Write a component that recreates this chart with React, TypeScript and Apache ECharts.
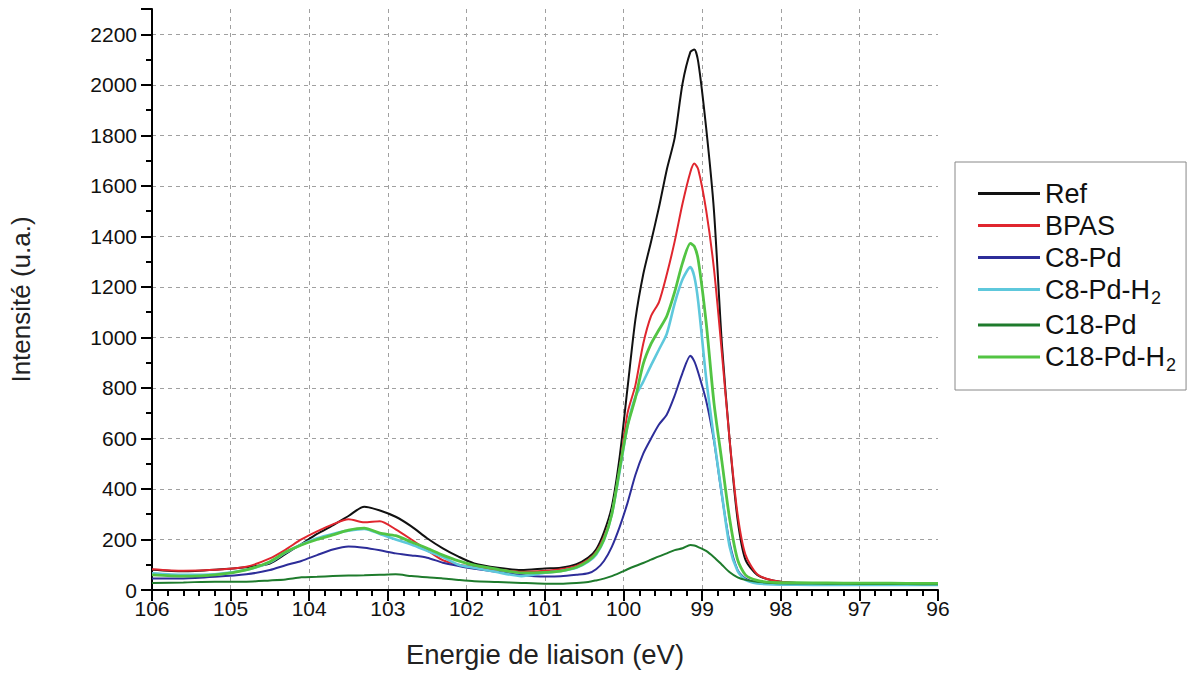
import React, { useEffect, useRef } from "react";
import * as echarts from "echarts";

// Binding energy (eV) sample positions
const energies = [
  106, 105.6, 105.2, 104.8, 104.5, 104.3, 104.1, 103.9, 103.7, 103.5,
  103.3, 103.1, 102.9, 102.7, 102.5, 102.3, 102.1, 101.9, 101.6, 101.3,
  101.0, 100.8, 100.6, 100.45, 100.35, 100.25, 100.15, 100.05, 99.95, 99.85,
  99.75, 99.65, 99.55, 99.45, 99.35, 99.25, 99.15, 99.1, 99.05, 98.95,
  98.85, 98.75, 98.65, 98.55, 98.45, 98.3, 98.1, 97.8, 97.4, 97.0,
  96.6, 96.2, 96.0,
];

const refValues = [
  80, 74, 80, 90, 105, 143, 182, 222, 256, 293,
  330, 315, 290, 252, 205, 165, 132, 105, 88, 79,
  85, 88, 102, 128, 160, 228, 330, 527, 800, 1070,
  1250, 1380, 1515, 1665, 1790, 2005, 2130, 2140, 2090, 1830,
  1500, 976, 590, 280, 120, 60, 38, 28, 25, 24,
  23, 22, 22,
];

const bpasValues = [
  82, 76, 80, 92, 125, 160, 200, 232, 260, 280,
  268, 272, 240, 200, 158, 118, 100, 92, 80, 72,
  76, 82, 95, 120, 150, 210, 305, 480, 700, 810,
  975, 1085, 1140, 1250, 1380, 1530, 1655, 1688, 1665, 1504,
  1270, 940, 590, 300, 140, 62, 38, 28, 26, 25,
  24, 23, 23,
];

const c8PdValues = [
  46, 46, 52, 62, 79, 98, 115, 138, 160, 172,
  167, 157, 145, 137, 128, 108, 95, 84, 72, 59,
  53, 54, 60, 66, 82, 115, 171, 250, 345, 455,
  540, 600, 655, 695, 770, 860, 927, 905, 860, 750,
  590, 375, 185, 80, 45, 30, 26, 24, 22, 22,
  21, 21, 21,
];

const c8PdH2Values = [
  66, 60, 62, 80, 110, 148, 180, 205, 222, 235,
  242, 222, 200, 180, 155, 130, 100, 88, 70, 55,
  68, 75, 88, 112, 140, 198, 300, 470, 650, 765,
  825, 890, 952, 1015, 1135, 1230, 1278, 1240, 1140, 840,
  600, 380, 170, 75, 40, 26, 22, 21, 20, 20,
  20, 20, 20,
];

const c18PdValues = [
  28, 30, 33, 33, 38, 42, 50, 52, 55, 57,
  58, 60, 62, 55, 50, 46, 40, 35, 32, 28,
  25, 25, 28, 32, 38, 45, 55, 68, 82, 95,
  107, 120, 133, 145, 158, 165, 178, 176, 170, 155,
  130, 100, 70, 50, 40, 33, 28, 26, 25, 24,
  24, 23, 23,
];

const c18PdH2Values = [
  60, 55, 60, 80, 112, 150, 178, 200, 218, 237,
  245, 225, 215, 190, 165, 138, 115, 98, 82, 68,
  70, 75, 90, 115, 145, 200, 300, 480, 650, 760,
  895, 975, 1030, 1085, 1180, 1295, 1372, 1360, 1306, 1060,
  740, 510, 280, 120, 60, 38, 30, 29, 28, 27,
  27, 26, 26,
];

const seriesNames = ["Ref", "BPAS", "C8-Pd", "C8-Pd-H2", "C18-Pd", "C18-Pd-H2"];
const seriesValues = [refValues, bpasValues, c8PdValues, c8PdH2Values, c18PdValues, c18PdH2Values];
const seriesColors = ["#111111", "#e0262e", "#2d2d99", "#5ec8dc", "#1e7b2c", "#52c443"];
const seriesWidths = [2, 2, 2, 2.6, 2, 2.8];

const FONT = "'Liberation Sans', Arial, sans-serif";

export default function App() {
  const divRef = useRef<HTMLDivElement>(null);

  useEffect(() => {
    if (!divRef.current) return;
    const chart = echarts.init(divRef.current, null, { renderer: "svg" });
    chart.setOption({
      animation: false,
      backgroundColor: "#ffffff",
      textStyle: { fontFamily: FONT },
      grid: { left: 149, right: 249, top: 9, bottom: 90, containLabel: false },
      legend: {
        orient: "vertical",
        left: 955,
        top: 162,
        padding: [18, 10, 16, 23],
        itemGap: 5,
        itemWidth: 62,
        itemHeight: 3,
        icon: "rect",
        borderColor: "#888888",
        borderWidth: 1,
        data: seriesNames,
        textStyle: {
          fontSize: 27,
          color: "#111",
          fontFamily: FONT,
          padding: [0, 0, 0, 0],
          rich: {
            s: { fontSize: 18, color: "#111", fontFamily: FONT, verticalAlign: "bottom", padding: [16, 0, 0, 1] },
          },
        },
        formatter: (name: string) => (name.endsWith("-H2") ? name.slice(0, -1) + "{s|2}" : name),
      },
      xAxis: {
        type: "value",
        min: 96,
        max: 106,
        interval: 1,
        inverse: true,
        name: "Energie de liaison (eV)",
        nameLocation: "middle",
        nameGap: 50,
        nameTextStyle: { fontSize: 27.5, color: "#222", fontFamily: FONT },
        axisLine: { show: true, onZero: false, lineStyle: { color: "#000", width: 2 } },
        axisTick: { show: true, length: 11, lineStyle: { color: "#000", width: 2 } },
        minorTick: { show: true, splitNumber: 5, length: 6, lineStyle: { color: "#000", width: 2 } },
        axisLabel: { fontSize: 21, color: "#111", margin: 8, fontFamily: FONT },
        splitLine: {
          show: true,
          showMinLine: false,
          showMaxLine: false,
          lineStyle: { color: "#a0a0a0", width: 1, type: [4, 4] },
        },
      },
      yAxis: {
        type: "value",
        min: 0,
        max: 2300,
        interval: 200,
        name: "Intensité (u.a.)",
        nameLocation: "middle",
        nameGap: 118,
        nameRotate: 90,
        nameTextStyle: { fontSize: 26, color: "#222", fontFamily: FONT },
        axisLine: { show: true, lineStyle: { color: "#000", width: 2 } },
        axisTick: { show: true, length: 11, lineStyle: { color: "#000", width: 2 } },
        minorTick: { show: true, splitNumber: 2, length: 6, lineStyle: { color: "#000", width: 2 } },
        axisLabel: {
          fontSize: 21,
          color: "#111",
          margin: 15,
          showMaxLabel: false,
          fontFamily: FONT,
          formatter: (v: number) => String(v),
        },
        splitLine: {
          show: true,
          showMinLine: false,
          showMaxLine: false,
          lineStyle: { color: "#a0a0a0", width: 1, type: [4, 4] },
        },
      },
      series: seriesNames.map((name, i) => ({
        name,
        type: "line",
        data: energies.map((e, j) => [e, seriesValues[i][j]]),
        showSymbol: false,
        symbol: "none",
        smooth: 0.25,
        lineStyle: { color: seriesColors[i], width: seriesWidths[i] },
        itemStyle: { color: seriesColors[i] },
        emphasis: { disabled: true },
      })),
    });
    return () => chart.dispose();
  }, []);

  return (
    <div
      ref={divRef}
      style={{ position: "fixed", left: 0, top: 0, width: 1187, height: 680, background: "#fff" }}
    />
  );
}
